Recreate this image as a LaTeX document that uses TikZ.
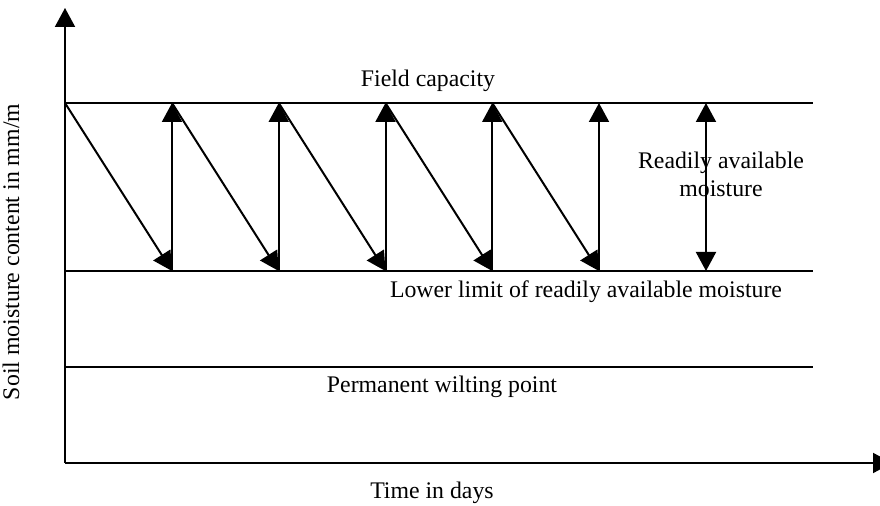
\documentclass[tikz,border=0pt]{standalone}
\usepackage{fontspec}
\setmainfont{Liberation Serif}
\usetikzlibrary{arrows.meta}
\begin{document}
\begin{tikzpicture}[x=0.5pt,y=-0.5pt,
  line width=1pt,
  tip/.tip={Triangle[length=9.5pt,width=10pt]},
  level/.style={draw},
  cycle/.style={draw,-tip},
  label/.style={font=\fontsize{11.9}{14}\selectfont,inner sep=0pt,anchor=base,align=center}]
\useasboundingbox (0,0) rectangle (880,506);
% axes
\coordinate (origin) at (65,463);
\coordinate (ytop) at (65,8);
\coordinate (xend) at (892,463);
\draw[-tip] (origin) -- (ytop);
\draw[-tip] (origin) -- (xend);
% horizontal levels
\coordinate (fcL) at (65,103);  \coordinate (fcR) at (813,103);
\coordinate (llL) at (65,271);  \coordinate (llR) at (813,271);
\coordinate (pwL) at (65,367);  \coordinate (pwR) at (813,367);
\draw[level] (fcL) -- (fcR);
\draw[level] (llL) -- (llR);
\draw[level] (pwL) -- (pwR);
% depletion and refill cycles
\coordinate (t0) at (65,103);
\foreach \i/\x in {1/172,2/278.75,3/385.5,4/492.25,5/599}{
  \coordinate (t\i) at (\x,103);
  \coordinate (b\i) at (\x,271);
}
\foreach \i [evaluate=\i as \j using int(\i-1)] in {1,...,5}{
  \draw[cycle] (t\j) -- (b\i);
  \draw[cycle] (b\i) -- (t\i);
}
% readily available moisture span
\coordinate (raTop) at (706,103);
\coordinate (raBot) at (706,271);
\draw[tip-tip] (raTop) -- (raBot);
% labels
\node[label] (fc) at (428,87) {Field capacity};
\node[label] (ra) at (721,197) {Readily available\\moisture};
\node[label] (ll) at (586,298) {Lower limit of readily available moisture};
\node[label] (pw) at (442,393) {Permanent wilting point};
\node[label] (xl) at (432,499) {Time in days};
\node[label,rotate=90] (yl) at (19,252) {Soil moisture content in mm/m};
\end{tikzpicture}
\end{document}
